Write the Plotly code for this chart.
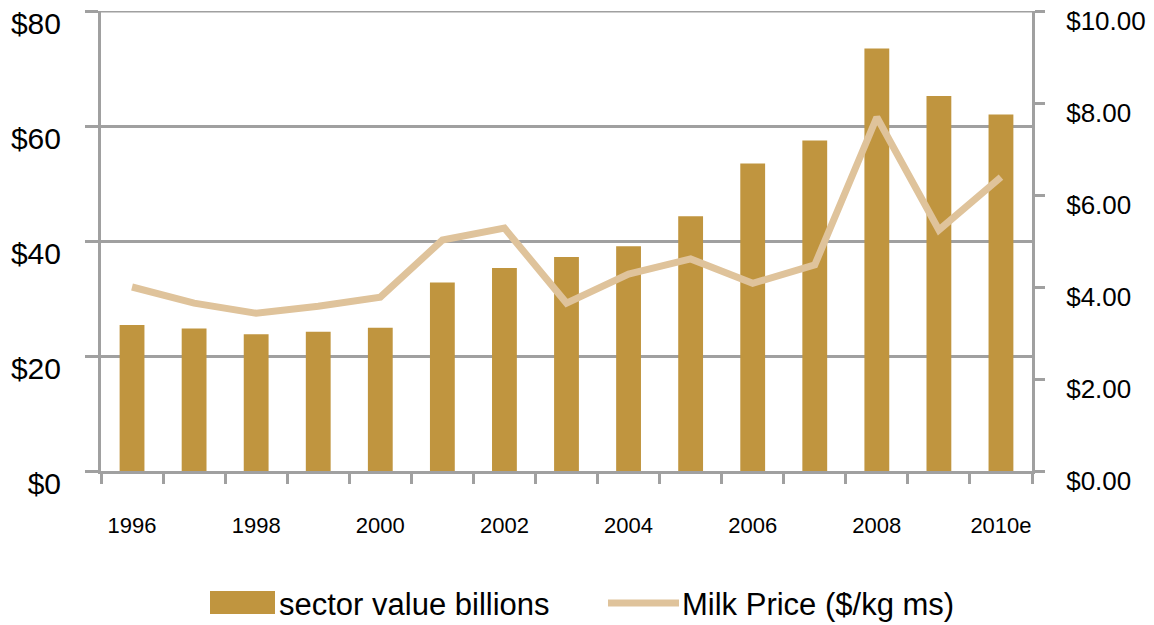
import plotly.graph_objects as go

# Dairy sector value vs. milk price, 1996-2010 (2010 estimated)
years = ["1996", "1997", "1998", "1999", "2000", "2001", "2002", "2003",
         "2004", "2005", "2006", "2007", "2008", "2009", "2010e"]
sector_value = [25.4, 24.8, 23.8, 24.2, 24.9, 32.8, 35.3, 37.2,
                39.1, 44.3, 53.5, 57.5, 73.5, 65.2, 62.0]
milk_price = [4.00, 3.65, 3.43, 3.58, 3.78, 5.02, 5.28, 3.65,
              4.28, 4.61, 4.08, 4.48, 7.69, 5.24, 6.39]

left_ticks = [0, 20, 40, 60, 80]
left_labels = ["$0", "$20", "$40", "$60", "$80"]
right_ticks = [0, 2, 4, 6, 8, 10]
right_labels = ["$0.00", "$2.00", "$4.00", "$6.00", "$8.00", "$10.00"]

BAR = "#C0953F"
LINE = "#DFC39B"
GRID = "#A0A0A0"
FONT = "Liberation Sans, Arial, sans-serif"

x = list(range(len(years)))
shown = x[::2]

fig = go.Figure()
fig.add_trace(go.Bar(x=x, y=sector_value, name="sector value billions",
                     marker=dict(color=BAR, line=dict(width=0)), width=0.4,
                     showlegend=False))
fig.add_trace(go.Scatter(x=x, y=milk_price, name="Milk Price ($/kg ms)",
                         mode="lines", yaxis="y2",
                         line=dict(color=LINE, width=7),
                         showlegend=False))

W, H = 1154, 625
ml, mr, mt, mb = 101, 122, 11, 154
pw, ph = W - ml - mr, H - mt - mb


def px(xp):
    return (xp - ml) / pw


def py(yp):
    return (H - mb - yp) / ph


# Top gridline at the upper edge of the value axis
fig.add_shape(type="line", xref="paper", yref="y", x0=0, x1=1,
              y0=left_ticks[-1], y1=left_ticks[-1],
              line=dict(color=GRID, width=3), layer="below")

# Hand-built legend below the plot
fig.add_shape(type="rect", xref="paper", yref="paper",
              x0=px(210), x1=px(275), y0=py(614), y1=py(591),
              fillcolor=BAR, line=dict(width=0))
fig.add_shape(type="line", xref="paper", yref="paper",
              x0=px(608), x1=px(679), y0=py(603), y1=py(603),
              line=dict(color=LINE, width=7))
fig.add_annotation(xref="paper", yref="paper", x=px(277), y=py(605),
                   text="sector value billions", showarrow=False,
                   xanchor="left", yanchor="middle",
                   font=dict(size=31, color="#000000", family=FONT))
fig.add_annotation(xref="paper", yref="paper", x=px(680), y=py(605),
                   text="Milk Price ($/kg ms)", showarrow=False,
                   xanchor="left", yanchor="middle",
                   font=dict(size=31, color="#000000", family=FONT))

fig.update_layout(
    width=W, height=H,
    margin=dict(l=ml, r=mr, t=mt, b=mb, autoexpand=False),
    paper_bgcolor="white", plot_bgcolor="white",
    font=dict(family=FONT, color="#000000"),
    bargap=0.6,
    xaxis=dict(
        range=[-0.5, len(years) - 0.5], automargin=False,
        tickmode="array", tickvals=shown, ticktext=[years[i] for i in shown],
        ticks="", showgrid=False, zeroline=False,
        showline=True, linecolor=GRID, linewidth=3,
        tickfont=dict(size=22), ticklabelstandoff=33,
        minor=dict(tickmode="linear", tick0=-0.5, dtick=1, ticks="outside",
                   ticklen=10, tickwidth=3, tickcolor=GRID, showgrid=False),
    ),
    yaxis=dict(
        range=[0, 80], automargin=False,
        tickmode="array", tickvals=left_ticks, ticktext=left_labels,
        showgrid=True, gridcolor=GRID, gridwidth=3, zeroline=False,
        showline=True, linecolor=GRID, linewidth=3,
        ticks="outside", ticklen=13, tickwidth=3, tickcolor=GRID,
        tickfont=dict(size=30), ticklabelstandoff=18, ticklabelshift=12,
    ),
    yaxis2=dict(
        range=[0, 10], automargin=False,
        tickmode="array", tickvals=right_ticks, ticktext=right_labels,
        overlaying="y", side="right", showgrid=False, zeroline=False,
        showline=True, linecolor=GRID, linewidth=3,
        ticks="outside", ticklen=10, tickwidth=3, tickcolor=GRID,
        tickfont=dict(size=26), ticklabelstandoff=16, ticklabelshift=10,
    ),
)

fig.write_html("out.html")
